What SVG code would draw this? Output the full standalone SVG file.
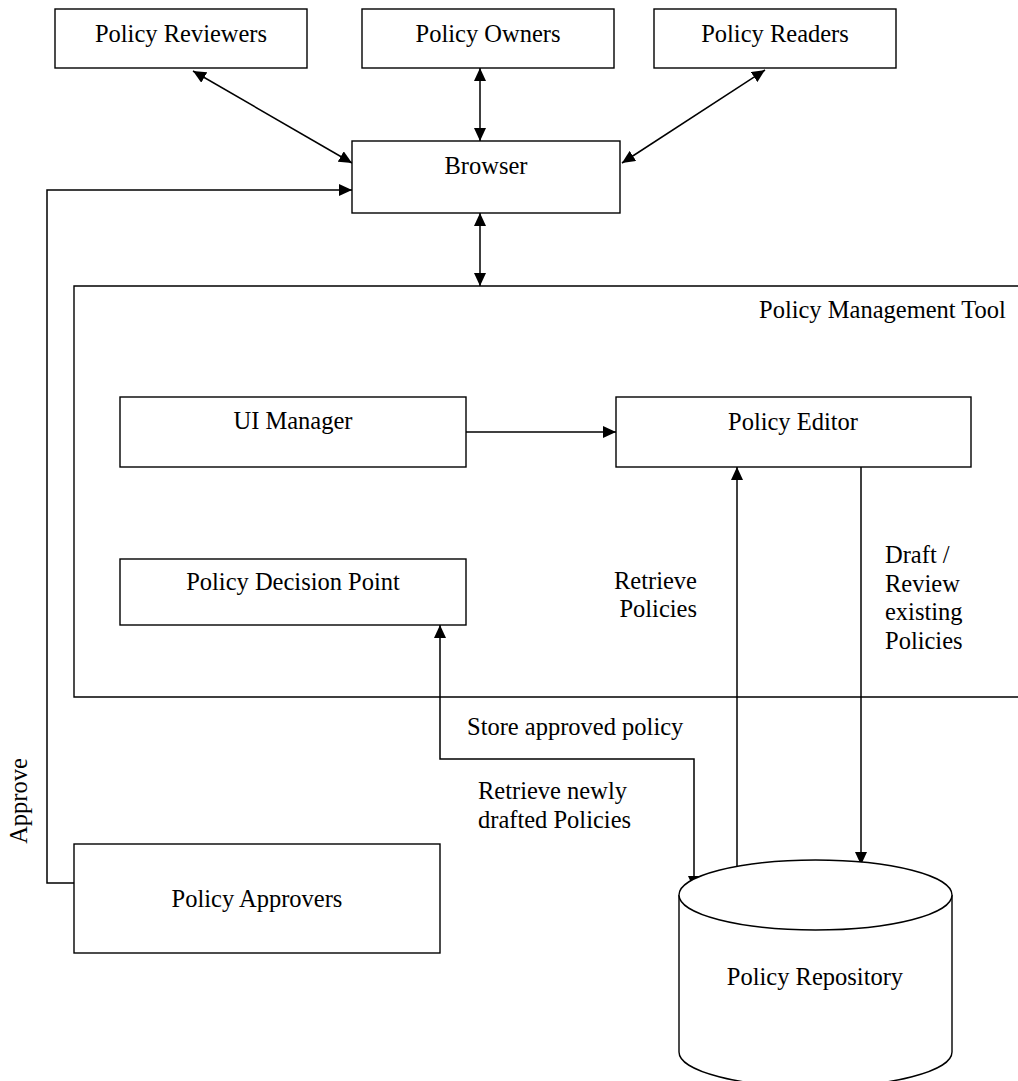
<svg xmlns="http://www.w3.org/2000/svg" width="1018" height="1081" viewBox="0 0 1018 1081">
<defs>
<style>
.box{fill:#fff;stroke:#000;stroke-width:1.4}
.ln{fill:none;stroke:#000;stroke-width:1.5}
.t{font-family:"Liberation Serif","Times New Roman",serif;font-size:24.5px;fill:#000}
.c{text-anchor:middle}
</style>
<marker id="ah" viewBox="0 0 13 12" refX="13" refY="6" markerWidth="13" markerHeight="12" markerUnits="userSpaceOnUse" orient="auto-start-reverse">
<path d="M0,0 L13,6 L0,12 z" fill="#000"/>
</marker>
</defs>
<rect width="1018" height="1081" fill="#fff"/>

<g id="tool-container">
<path class="ln" d="M1018,286 H74 V697 H1018" style="stroke-width:1.4"/>
<text class="t" x="759" y="318">Policy Management Tool</text>
</g>

<g id="connectors">
<line class="ln" x1="193" y1="71" x2="352" y2="163" marker-start="url(#ah)" marker-end="url(#ah)"/>
<line class="ln" x1="480" y1="68" x2="480" y2="141" marker-start="url(#ah)" marker-end="url(#ah)"/>
<line class="ln" x1="765" y1="70" x2="622" y2="163" marker-start="url(#ah)" marker-end="url(#ah)"/>
<line class="ln" x1="480" y1="213" x2="480" y2="286" marker-start="url(#ah)" marker-end="url(#ah)"/>
<path class="ln" d="M74,883 H47 V190 H352" marker-end="url(#ah)"/>
<line class="ln" x1="466" y1="432" x2="616" y2="432" marker-end="url(#ah)"/>
<line class="ln" x1="737" y1="868" x2="737" y2="467" marker-end="url(#ah)"/>
<line class="ln" x1="861" y1="467" x2="861" y2="865" marker-end="url(#ah)"/>
<path class="ln" d="M440,625 V759 H694 V889" marker-start="url(#ah)" marker-end="url(#ah)"/>
<text class="t" x="27" y="801" text-anchor="middle" transform="rotate(-90 27 801)">Approve</text>
<text class="t" x="697" y="589" text-anchor="end">Retrieve</text>
<text class="t" x="697" y="617" text-anchor="end">Policies</text>
<text class="t" x="885" y="563">Draft /</text>
<text class="t" x="885" y="591.5">Review</text>
<text class="t" x="885" y="620">existing</text>
<text class="t" x="885" y="648.5">Policies</text>
<text class="t" x="467" y="735">Store approved policy</text>
<text class="t" x="478" y="799">Retrieve newly</text>
<text class="t" x="478" y="828">drafted Policies</text>
</g>

<g id="policy-reviewers">
<rect class="box" x="55" y="9" width="252" height="59"/>
<text class="t c" x="181" y="42">Policy Reviewers</text>
</g>
<g id="policy-owners">
<rect class="box" x="362" y="9" width="252" height="59"/>
<text class="t c" x="488" y="42">Policy Owners</text>
</g>
<g id="policy-readers">
<rect class="box" x="654" y="9" width="242" height="59"/>
<text class="t c" x="775" y="42">Policy Readers</text>
</g>
<g id="browser">
<rect class="box" x="352" y="141" width="268" height="72"/>
<text class="t c" x="486" y="174">Browser</text>
</g>
<g id="ui-manager">
<rect class="box" x="120" y="397" width="346" height="70"/>
<text class="t c" x="293" y="429">UI Manager</text>
</g>
<g id="policy-editor">
<rect class="box" x="616" y="397" width="355" height="70"/>
<text class="t c" x="793" y="430">Policy Editor</text>
</g>
<g id="policy-decision-point">
<rect class="box" x="120" y="559" width="346" height="66"/>
<text class="t c" x="293" y="590">Policy Decision Point</text>
</g>
<g id="policy-approvers">
<rect class="box" x="74" y="844" width="366" height="109"/>
<text class="t c" x="257" y="907">Policy Approvers</text>
</g>
<g id="policy-repository">
<path class="box" d="M679,895 V1052 A136.5,35 0 0 0 952,1052 V895"/>
<ellipse class="box" cx="815.5" cy="895" rx="136.5" ry="35"/>
<text class="t c" x="815" y="985">Policy Repository</text>
</g>
</svg>
